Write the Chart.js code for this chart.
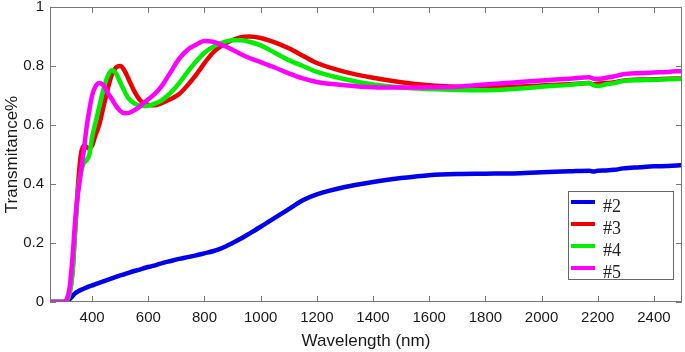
<!DOCTYPE html>
<html>
<head>
<meta charset="utf-8">
<script src="https://cdn.jsdelivr.net/npm/chart.js@4/dist/chart.umd.min.js"></script>
<style>
  html, body { margin: 0; padding: 0; background: #fff; }
  #wrap { width: 685px; height: 352px; }
</style>
</head>
<body>
<div id="wrap"><canvas id="chart" width="685" height="352"></canvas></div>
<script>
// wavelength samples (nm)
const wavelength = [250, 300, 310, 320, 330, 340, 350, 360, 370, 380, 390, 400, 410, 425, 440, 455, 470, 485, 500, 515,
  530, 550, 570, 590, 610, 630, 650, 680, 710, 740, 770, 800, 830, 860, 900, 930, 960, 1000, 1050, 1100,
  1150, 1200, 1300, 1400, 1500, 1600, 1700, 1800, 1900, 2000, 2100, 2170, 2185, 2200, 2230, 2260, 2290, 2350, 2400, 2450, 2500];

const s2 = [0, 0, 0.003, 0.01, 0.02, 0.03, 0.036, 0.041, 0.045, 0.049, 0.053, 0.056, 0.06, 0.065, 0.07, 0.075, 0.08, 0.085, 0.09, 0.094,
  0.099, 0.105, 0.11, 0.116, 0.121, 0.126, 0.132, 0.139, 0.146, 0.152, 0.158, 0.165, 0.172, 0.182, 0.2, 0.215, 0.232, 0.255, 0.285, 0.315,
  0.345, 0.365, 0.39, 0.407, 0.42, 0.43, 0.434, 0.435, 0.436, 0.44, 0.443, 0.445, 0.442, 0.445, 0.446, 0.448, 0.453, 0.457, 0.46, 0.461, 0.464];

const s3 = [0, 0, 0.005, 0.03, 0.1, 0.25, 0.4, 0.5, 0.53, 0.525, 0.52, 0.53, 0.56, 0.6, 0.66, 0.72, 0.77, 0.795, 0.8, 0.785,
  0.755, 0.715, 0.685, 0.672, 0.667, 0.668, 0.675, 0.688, 0.705, 0.735, 0.77, 0.81, 0.845, 0.868, 0.888, 0.898, 0.9, 0.895, 0.88, 0.86,
  0.835, 0.81, 0.78, 0.76, 0.745, 0.735, 0.73, 0.728, 0.73, 0.734, 0.738, 0.742, 0.738, 0.74, 0.742, 0.745, 0.75, 0.754, 0.755, 0.757, 0.758];

const s4 = [0, 0, 0.005, 0.03, 0.1, 0.25, 0.38, 0.44, 0.47, 0.48, 0.5, 0.56, 0.6, 0.66, 0.72, 0.765, 0.786, 0.775, 0.745, 0.715,
  0.69, 0.673, 0.665, 0.664, 0.668, 0.675, 0.685, 0.71, 0.742, 0.78, 0.815, 0.845, 0.865, 0.878, 0.887, 0.887, 0.882, 0.87, 0.845, 0.82,
  0.8, 0.78, 0.755, 0.737, 0.727, 0.722, 0.719, 0.718, 0.722, 0.73, 0.736, 0.742, 0.735, 0.732, 0.738, 0.742, 0.749, 0.752, 0.753, 0.755, 0.756];

const s5 = [0, 0, 0.01, 0.05, 0.15, 0.28, 0.37, 0.44, 0.51, 0.59, 0.65, 0.7, 0.727, 0.742, 0.735, 0.71, 0.688, 0.665, 0.648, 0.64,
  0.641, 0.65, 0.663, 0.68, 0.695, 0.712, 0.735, 0.78, 0.825, 0.855, 0.872, 0.885, 0.882, 0.872, 0.855, 0.84, 0.827, 0.813, 0.795, 0.775,
  0.758, 0.746, 0.735, 0.728, 0.727, 0.728, 0.73, 0.737, 0.744, 0.751, 0.757, 0.762, 0.757, 0.756, 0.76, 0.765, 0.772, 0.776, 0.778, 0.78, 0.783];

const seriesNames = ['#2', '#3', '#4', '#5'];
const seriesColors = ['#0000ee', '#ee0000', '#00ee00', '#ff00ff'];
const xTicks = [400, 600, 800, 1000, 1200, 1400, 1600, 1800, 2000, 2200, 2400];
const yTicks = [0, 0.2, 0.4, 0.6, 0.8, 1];

function toPoints(values) {
  return wavelength.map((w, i) => ({ x: w, y: values[i] }));
}

// frame + inward ticks on all four sides, like matlab "box on"
const framePlugin = {
  id: 'frame',
  afterDatasetsDraw(chart) {
    const { ctx, chartArea: a, scales } = chart;
    ctx.save();
    ctx.strokeStyle = '#777';
    ctx.lineWidth = 1;
    ctx.strokeRect(a.left + 0.5, a.top + 0.5, a.right - a.left - 1, a.bottom - a.top - 1);
    const len = 6;
    ctx.beginPath();
    scales.x.ticks.forEach((t, i) => {
      const px = Math.round(scales.x.getPixelForTick(i)) + 0.5;
      ctx.moveTo(px, a.bottom); ctx.lineTo(px, a.bottom - len);
      ctx.moveTo(px, a.top); ctx.lineTo(px, a.top + len);
    });
    scales.y.ticks.forEach((t, i) => {
      const py = Math.round(scales.y.getPixelForTick(i)) + 0.5;
      ctx.moveTo(a.left, py); ctx.lineTo(a.left + len, py);
      ctx.moveTo(a.right, py); ctx.lineTo(a.right - len, py);
    });
    ctx.stroke();
    ctx.restore();
  }
};

// legend box in the lower right of the plot
const legendPlugin = {
  id: 'boxLegend',
  afterDraw(chart) {
    const { ctx, chartArea: a } = chart;
    const w = 105, h = 88;
    const x0 = a.right - 9 - w, y0 = a.bottom - 23 - h;
    ctx.save();
    ctx.fillStyle = '#fff';
    ctx.fillRect(x0, y0, w, h);
    ctx.strokeStyle = '#666';
    ctx.lineWidth = 1;
    ctx.strokeRect(x0 + 0.5, y0 + 0.5, w, h);
    ctx.font = '18px "Liberation Serif", "Times New Roman", serif';
    ctx.textBaseline = 'alphabetic';
    chart.data.datasets.forEach((ds, i) => {
      const y = y0 + 11 + i * 22;
      ctx.strokeStyle = ds.borderColor;
      ctx.lineWidth = 4;
      ctx.beginPath();
      ctx.moveTo(x0 + 3, y);
      ctx.lineTo(x0 + 27, y);
      ctx.stroke();
      ctx.fillStyle = '#222';
      ctx.fillText(ds.label, x0 + 35, y + 10);
    });
    ctx.restore();
  }
};

const datasets = [s2, s3, s4, s5].map((vals, i) => ({
  label: seriesNames[i],
  data: toPoints(vals),
  borderColor: seriesColors[i],
  backgroundColor: seriesColors[i],
  borderWidth: 4.5,
  pointRadius: 0,
  cubicInterpolationMode: 'monotone',
  order: 4 - i
}));

const tickFont = { family: 'Arial, "Liberation Sans"', size: 15 };
const titleFont = { family: 'Arial, "Liberation Sans"', size: 17 };

new Chart(document.getElementById('chart').getContext('2d'), {
  type: 'line',
  data: { datasets },
  options: {
    responsive: false,
    animation: false,
    devicePixelRatio: 1,
    layout: { padding: { top: 7, right: 3, left: 0, bottom: 0 } },
    plugins: { legend: { display: false }, tooltip: { enabled: false } },
    scales: {
      x: {
        type: 'linear',
        min: 250,
        max: 2500,
        afterBuildTicks: (s) => { s.ticks = xTicks.map(v => ({ value: v })); },
        afterFit: (s) => { s.height = 50; s.paddingLeft = 0; s.paddingRight = 0; },
        grid: { display: false, drawTicks: false },
        border: { display: false },
        ticks: { color: '#1a1a1a', font: tickFont, padding: 7, maxRotation: 0, callback: (v) => String(v) },
        title: { display: true, text: 'Wavelength (nm)', color: '#1a1a1a', font: titleFont, padding: { top: 2, bottom: 0 } }
      },
      y: {
        min: 0,
        max: 1,
        afterBuildTicks: (s) => { s.ticks = yTicks.map(v => ({ value: v })); },
        afterFit: (s) => { s.width = 50; s.paddingTop = 0; s.paddingBottom = 0; },
        grid: { display: false, drawTicks: false },
        border: { display: false },
        ticks: { color: '#1a1a1a', font: tickFont, padding: 6, callback: (v) => String(v) },
        title: { display: true, text: 'Transmitance%', color: '#1a1a1a', font: titleFont, padding: { top: 2, bottom: 0 } }
      }
    }
  },
  plugins: [framePlugin, legendPlugin]
});
</script>
</body>
</html>
